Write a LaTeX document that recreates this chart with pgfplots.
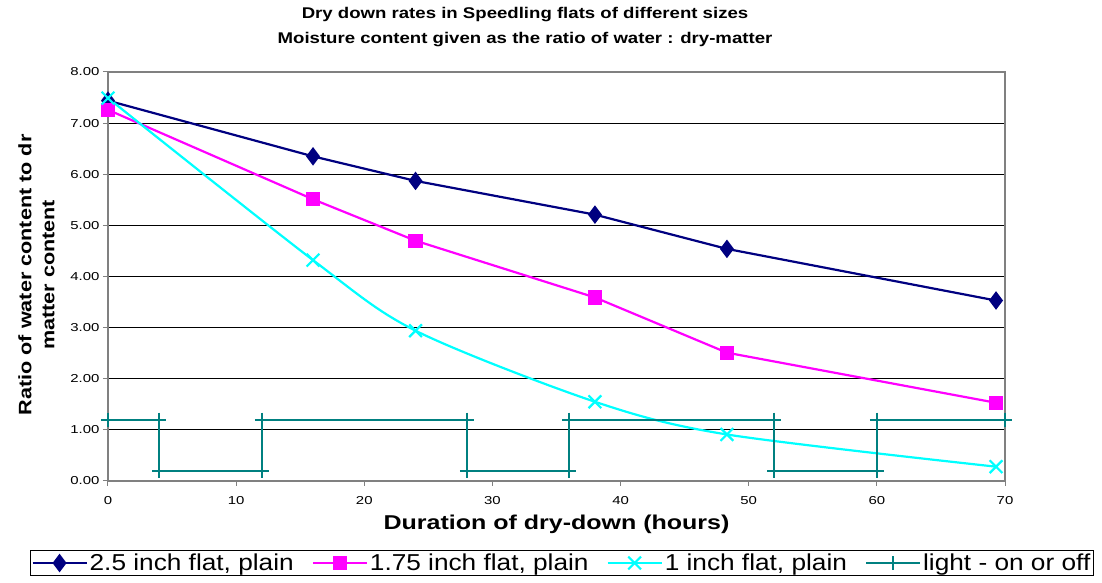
\documentclass[border=0pt]{standalone}
\usepackage{fontspec}
\setmainfont{Liberation Sans}
\newfontfamily\tickfont[FakeStretch=1.3]{Liberation Sans}
\newfontfamily\titlefont[FakeStretch=1.2]{Liberation Sans}
\newfontfamily\xlabfont[FakeStretch=1.25]{Liberation Sans}
\newfontfamily\ylabfont[FakeStretch=1.2]{Liberation Sans}
\newfontfamily\legfont[FakeStretch=1.14]{Liberation Sans}
\usepackage{pgfplots}
\pgfplotsset{compat=1.18}
\definecolor{navy}{HTML}{000080}
\definecolor{mag}{HTML}{FF00FF}
\definecolor{cyn}{HTML}{00FFFF}
\definecolor{tealc}{HTML}{008080}
\begin{document}
\begin{tikzpicture}[x=1pt,y=1pt]
\path[use as bounding box] (0,0) rectangle (1102,583);
\begin{axis}[
  at={(108pt,102pt)}, anchor=south west,
  scale only axis, width=897pt, height=409pt,
  xmin=0, xmax=70, ymin=0, ymax=8,
  xtick={0,10,...,70}, ytick={0,1,...,8},
  ymajorgrids, major grid style={black, line width=0.9pt},
  axis line style={gray, line width=1.8pt},
  tick align=outside, major tick length=5pt, tick style={gray, line width=1pt},
  xtick pos=left, ytick pos=left,
  tick label style={font=\tickfont\fontsize{11.5}{13}\selectfont},
  x tick label style={yshift=-7pt},
  /pgf/number format/assume math mode=true,
  y tick label style={/pgf/number format/.cd, fixed, fixed zerofill, precision=2, /tikz/.cd},
  clip=false,
  xlabel={Duration of dry-down (hours)},
  xlabel style={font=\xlabfont\bfseries\fontsize{20}{22}\selectfont, at={(axis description cs:0.5,-0.105)}, anchor=center},
  ylabel={Ratio of water content to dr\\matter content},
  ylabel style={font=\ylabfont\bfseries\fontsize{18}{23}\selectfont, align=center, at={(axis description cs:-0.0797,0.504)}, anchor=center},
  legend columns=4,
  legend cell align=left,
  legend style={at={(axis description cs:0.506,-0.2005)}, anchor=center, draw=black, line width=0.9pt,
    font=\legfont\fontsize{23}{26}\selectfont, inner sep=1pt,
    /tikz/every even column/.append style={column sep=16pt}},
  legend image code/.code={\draw[mark repeat=2,mark phase=2] plot coordinates {(0pt,0pt) (27pt,0pt) (54pt,0pt)};},
]
\addplot[navy, line width=2.2pt, mark=diamond*, mark size=7.5pt] coordinates {(0,7.44)(16,6.35)(24,5.87)(38,5.21)(48.3,4.54)(69.3,3.53)};
\addlegendentry{2.5 inch flat, plain}
\addplot[mag, line width=2.2pt, mark=square*, mark size=6pt] coordinates {(0,7.26)(16,5.51)(24,4.70)(38,3.59)(48.3,2.51)(69.3,1.53)};
\addlegendentry{1.75 inch flat, plain}
\addplot[cyn, line width=2.2pt, mark=x, mark size=9pt, mark options={line width=2.2pt}, smooth] coordinates {(0,7.49)(16,4.32)(24,2.94)(38,1.55)(48.3,0.91)(69.3,0.28)};
\addlegendentry{1 inch flat, plain}
\addplot[tealc, line width=2.2pt, mark=+, mark size=7pt] coordinates {(0,1.2)(4,1.2)(4,0.2)(12,0.2)(12,1.2)(28,1.2)(28,0.2)(36,0.2)(36,1.2)(52,1.2)(52,0.2)(60,0.2)(60,1.2)(70,1.2)};
\addlegendentry{light - on or off}
\end{axis}
\node[font=\titlefont\bfseries\fontsize{15.5}{17}\selectfont] at (525,568) {Dry down rates in Speedling flats of different sizes};
\node[font=\titlefont\bfseries\fontsize{15.5}{17}\selectfont] at (525,543) {Moisture content given as the ratio of water : dry-matter};
\end{tikzpicture}
\end{document}
